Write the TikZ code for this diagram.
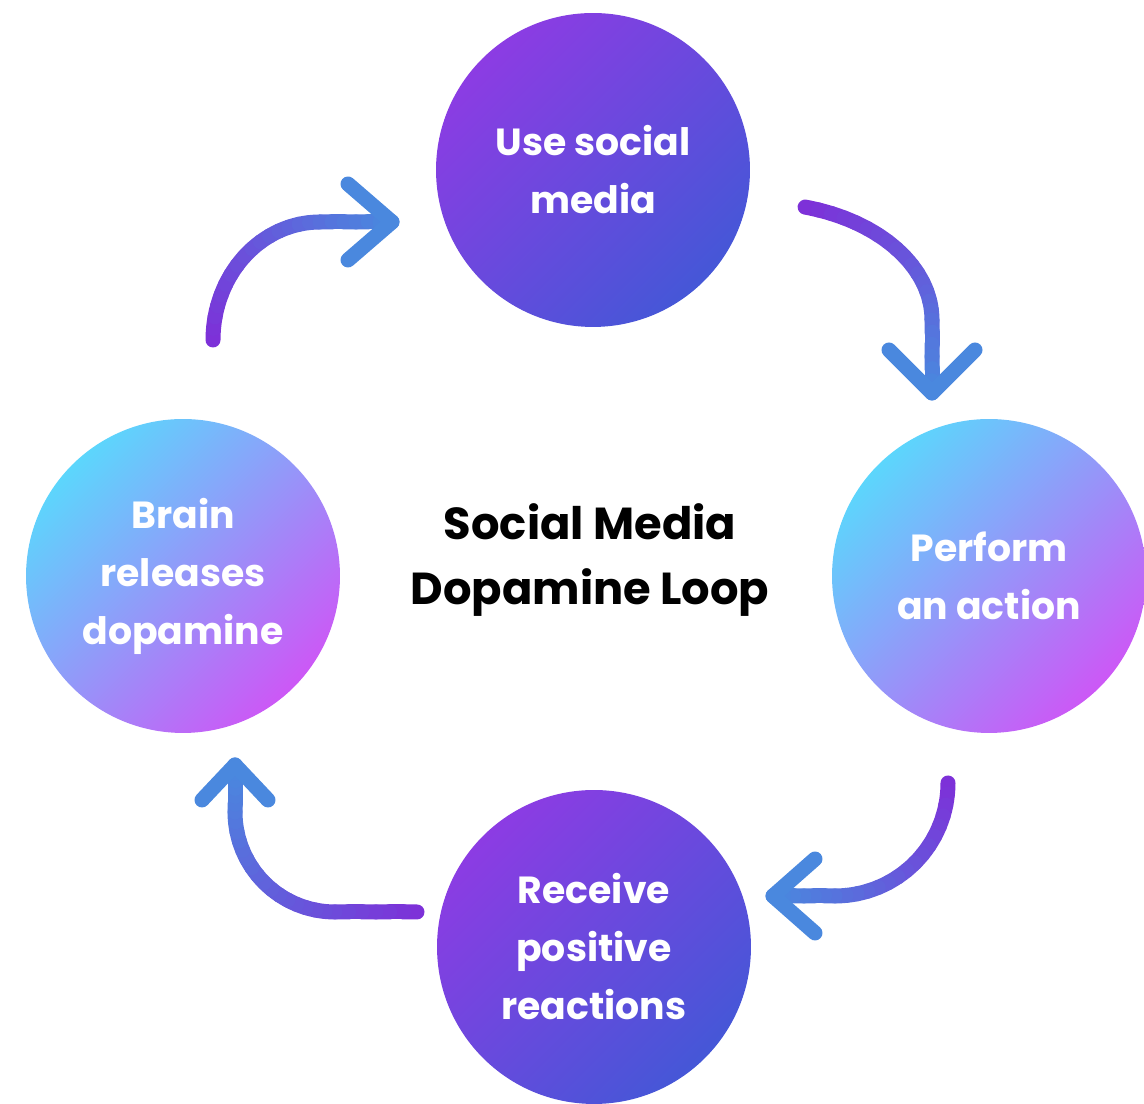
\documentclass[tikz,border=0pt]{standalone}
\usepackage{fontspec}
\setmainfont{Poppins}
\usetikzlibrary{calc}

\definecolor{arrowpurple}{HTML}{7E2FD8}
\definecolor{arrowblue}{HTML}{4A88DE}
\definecolor{deeppurple}{HTML}{8C3CE3}
\definecolor{deepblue}{HTML}{4557D7}
\definecolor{softcyan}{HTML}{5CD6FC}
\definecolor{softlilac}{HTML}{A08EF6}
\definecolor{softmagenta}{HTML}{CC58F6}

\tikzset{
  stepcircle/.style={circle, minimum size=6.28cm, inner sep=0pt, align=center, text=white,
    font=\bfseries\fontsize{21.5}{33}\selectfont},
  deepcircle/.style={stepcircle, top color=deeppurple, bottom color=deepblue, shading angle=45},
  softcircle/.style={stepcircle, top color=softcyan, middle color=softlilac, bottom color=softmagenta, shading angle=45},
  loopline/.style={line width=0.3cm, line cap=round, line join=round},
}

% arc drawn in small pieces so its colour runs from purple to blue
\newcommand{\loopArc}[7]{% center, x radius, y radius, start angle, end angle, mix start, mix end
  \foreach \k in {1,...,16}{%
    \pgfmathsetmacro{\angA}{#4+(#5-#4)*(\k-1)/16}%
    \pgfmathsetmacro{\angB}{#4+(#5-#4)*\k/16}%
    \pgfmathtruncatemacro{\mixval}{#6+(#7-#6)*(\k-0.5)/16}%
    \draw[loopline, arrowblue!\mixval!arrowpurple] (#1) ++(\angA:#2 and #3)
      arc[start angle=\angA, end angle=\angB, x radius=#2, y radius=#3];
  }}
% straight piece, same idea
\newcommand{\loopLine}[4]{% from, to, mix start, mix end
  \foreach \k in {1,...,6}{%
    \pgfmathsetmacro{\tA}{(\k-1)/6}%
    \pgfmathsetmacro{\tB}{\k/6}%
    \pgfmathtruncatemacro{\mixval}{#3+(#4-#3)*(\k-0.5)/6}%
    \draw[loopline, arrowblue!\mixval!arrowpurple] ($(#1)!\tA!(#2)$) -- ($(#1)!\tB!(#2)$);
  }}

\begin{document}
\begin{tikzpicture}[x=0.02cm, y=0.02cm]
    \useasboundingbox (0,0) rectangle (1144,1104);

    % The four steps
    \node[deepcircle] (use) at (593,934) {Use social\\media};
    \node[softcircle] (perform) at (989,528) {Perform\\an action};
    \node[deepcircle] (receive) at (594,157) {Receive\\positive\\reactions};
    \node[softcircle] (brain) at (183,528) {Brain\\releases\\dopamine};

    % Title in the middle
    \node[font=\bfseries\fontsize{25.5}{37}\selectfont, align=center] (title) at (590,544)
        {Social Media\\Dopamine Loop};

    % Arrow brain -> use
    \coordinate (A c) at (320,764);
    \coordinate (A bend) at (320,882);
    \coordinate (A tip) at (392,882);
    \loopArc{A c}{107}{118}{180}{90}{0}{71}
    \loopLine{A bend}{A tip}{71}{100}
    \draw[loopline, arrowblue] (348,920) -- (A tip) -- (348,844);

    % Arrow use -> perform
    \coordinate (B c) at (760,784);
    \coordinate (B bend) at (932,784);
    \coordinate (B tip) at (932,711);
    \loopArc{B c}{172}{117}{74.8}{0}{0}{71}
    \loopLine{B bend}{B tip}{71}{100}
    \draw[loopline, arrowblue] (889,754) -- (B tip) -- (975,754);

    % Arrow perform -> receive
    \coordinate (C c) at (835,321);
    \coordinate (C bend) at (835,208);
    \coordinate (C tip) at (773,208);
    \loopArc{C c}{113}{113}{0}{-90}{0}{74}
    \loopLine{C bend}{C tip}{74}{100}
    \draw[loopline, arrowblue] (815,245) -- (C tip) -- (815,171);

    % Arrow receive -> brain
    \coordinate (D tail) at (417,192);
    \coordinate (D start) at (335,192);
    \coordinate (D c) at (335,292);
    \coordinate (D bend) at (235,292);
    \coordinate (D tip) at (235,339);
    \loopLine{D tail}{D start}{0}{29}
    \loopArc{D c}{100}{100}{270}{180}{29}{84}
    \loopLine{D bend}{D tip}{84}{100}
    \draw[loopline, arrowblue] (202,304) -- (D tip) -- (268,304);
\end{tikzpicture}
\end{document}
